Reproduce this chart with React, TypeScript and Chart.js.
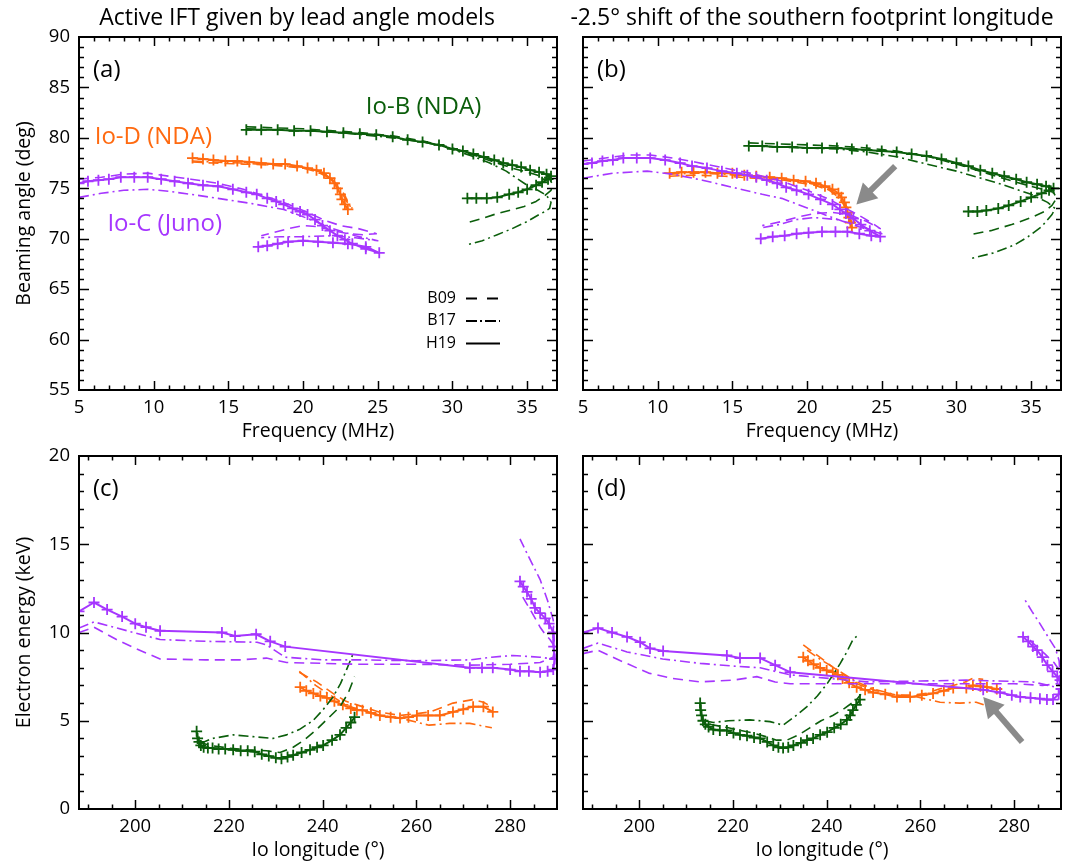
import React, { useEffect, useRef } from 'react';
import { Chart, registerables } from 'chart.js';

Chart.register(...registerables);

type P = [number, number];

const PURPLE = '#A636FF';
const ORANGE = '#FF6A10';
const GREEN = '#0B5E0B';
const ARROW = '#8A8A8A';
const FONT = "'Open Sans', sans-serif";

// ---- tick labels ----
const freqTicks = [5, 10, 15, 20, 25, 30, 35];
const angleTicks = [55, 60, 65, 70, 75, 80, 85, 90];
const lonTicks = [200, 220, 240, 260, 280];
const energyTicks = [0, 5, 10, 15, 20];

// ---- panel (a): beaming angle vs frequency, lead angle models ----
const aIoB_H19: P[] = [[16.2, 80.8], [17.2, 80.8], [18.3, 80.8], [19.4, 80.7], [20.5, 80.7], [21.6, 80.6], [22.7, 80.5], [23.8, 80.4], [24.9, 80.3], [26.0, 80.1], [27.0, 79.8], [28.0, 79.6], [29.1, 79.3], [30.0, 78.9], [30.7, 78.7], [31.4, 78.4], [32.1, 78.1], [32.8, 77.8], [33.4, 77.5], [34.0, 77.3], [34.6, 77.1], [35.2, 76.8], [35.8, 76.6], [36.3, 76.4], [36.6, 76.2], [36.4, 75.9], [36.0, 75.6], [35.6, 75.3], [35.0, 74.9], [34.4, 74.6], [33.8, 74.4], [33.0, 74.1], [32.3, 74.0], [31.6, 74.0], [31.0, 74.0]];
const aIoB_B09: P[] = [[16.2, 81.1], [18.0, 81.0], [20.0, 80.9], [22.0, 80.7], [24.0, 80.5], [26.0, 80.2], [28.0, 79.7], [30.0, 79.0], [32.0, 78.0], [34.0, 77.0], [35.5, 76.4], [36.5, 75.9], [36.7, 75.4], [36.6, 74.8], [36.2, 74.3], [35.6, 73.7], [34.8, 73.2], [33.8, 72.8], [33.0, 72.5], [32.0, 72.0], [31.0, 71.6]];
const aIoB_B17: P[] = [[16.2, 80.9], [18.0, 80.8], [20.0, 80.7], [22.0, 80.6], [24.0, 80.3], [26.0, 80.0], [28.0, 79.6], [29.5, 79.1], [31.3, 78.2], [32.5, 77.5], [33.6, 76.7], [34.9, 75.4], [35.6, 74.9], [36.3, 74.3], [36.6, 73.6], [36.5, 73.0], [36.2, 72.7], [35.8, 72.4], [35.0, 71.7], [34.0, 71.0], [33.0, 70.4], [32.0, 69.8], [31.0, 69.4]];
const aIoD_H19: P[] = [[12.6, 78.0], [13.3, 77.9], [14.0, 77.8], [14.8, 77.7], [15.6, 77.7], [16.4, 77.6], [17.2, 77.5], [18.0, 77.4], [18.8, 77.4], [19.6, 77.2], [20.3, 77.0], [20.9, 76.8], [21.4, 76.5], [21.8, 76.0], [22.1, 75.5], [22.3, 75.0], [22.5, 74.4], [22.6, 73.9], [22.8, 73.4], [23.0, 72.9]];
const aIoD_B09: P[] = [[12.6, 77.6], [14.0, 77.5], [16.0, 77.4], [18.0, 77.3], [20.0, 77.0], [21.0, 76.6], [21.8, 76.0], [22.3, 75.2], [22.7, 74.3], [23.0, 73.5], [23.3, 73.0]];
const aIoD_B17: P[] = [[12.6, 77.7], [14.0, 77.6], [16.0, 77.5], [18.0, 77.3], [20.0, 77.1], [21.0, 76.7], [21.8, 76.1], [22.4, 75.2], [22.8, 74.3], [23.0, 73.6], [23.2, 73.1]];
const aIoC_H19: P[] = [[5.0, 75.5], [5.6, 75.7], [6.3, 75.8], [7.0, 75.9], [7.8, 76.1], [8.7, 76.1], [9.6, 76.1], [10.5, 75.9], [11.4, 75.7], [12.3, 75.5], [13.3, 75.3], [14.3, 75.2], [15.3, 74.9], [16.2, 74.6], [16.9, 74.4], [17.6, 74.0], [18.2, 73.7], [18.7, 73.4], [19.3, 73.0], [19.8, 72.7], [20.3, 72.4], [20.8, 71.9], [21.3, 71.3], [21.8, 70.8], [22.3, 70.3], [22.8, 69.9], [23.3, 69.5], [24.2, 69.0], [25.1, 68.6], [24.2, 69.2], [23.0, 69.5], [22.0, 69.6], [21.0, 69.7], [20.0, 69.8], [19.0, 69.7], [18.3, 69.5], [17.6, 69.3], [17.0, 69.2]];
const aIoC_B09: P[] = [[5.0, 75.9], [6.5, 76.1], [8.0, 76.4], [9.6, 76.5], [11.0, 76.2], [12.5, 75.9], [14.3, 75.5], [16.0, 74.9], [17.5, 74.2], [18.7, 73.6], [20.0, 72.8], [21.5, 71.8], [22.5, 71.3], [23.7, 71.0], [24.9, 70.5], [24.0, 70.4], [23.0, 70.5], [22.0, 70.8], [21.0, 71.2], [20.0, 71.3], [19.0, 71.0], [18.0, 70.6], [17.2, 70.3]];
const aIoC_B17: P[] = [[5.0, 74.1], [6.5, 74.5], [8.0, 74.8], [9.6, 74.9], [11.0, 74.7], [12.5, 74.4], [14.3, 74.0], [16.5, 73.5], [18.7, 72.9], [20.5, 71.9], [22.0, 71.0], [23.5, 70.3], [25.0, 69.8], [23.5, 70.1], [22.0, 70.3], [20.0, 70.2], [18.5, 70.2], [17.2, 70.1]];

// ---- panel (b): -2.5 deg footprint shift ----
const bIoB_H19: P[] = [[16.1, 79.2], [17.0, 79.2], [18.0, 79.1], [19.0, 79.1], [20.0, 79.0], [21.0, 79.0], [22.0, 79.0], [23.0, 78.9], [24.0, 78.8], [25.0, 78.7], [26.0, 78.6], [27.0, 78.4], [28.0, 78.2], [29.0, 77.9], [30.0, 77.5], [30.8, 77.2], [31.6, 76.8], [32.4, 76.5], [33.2, 76.2], [34.0, 75.9], [34.7, 75.6], [35.4, 75.4], [36.0, 75.2], [36.5, 75.0], [36.2, 74.8], [35.7, 74.5], [35.0, 74.1], [34.3, 73.7], [33.5, 73.3], [32.8, 73.0], [32.0, 72.8], [31.4, 72.7], [30.8, 72.7]];
const bIoB_B09: P[] = [[16.1, 79.5], [18.0, 79.4], [20.0, 79.3], [22.0, 79.2], [24.0, 79.0], [26.0, 78.7], [28.0, 78.2], [30.0, 77.4], [32.0, 76.5], [34.0, 75.6], [35.5, 75.0], [36.5, 74.6], [36.7, 74.0], [36.4, 73.3], [35.9, 72.7], [35.0, 72.1], [33.7, 71.4], [32.3, 70.8], [30.9, 70.4]];
const bIoB_B17: P[] = [[16.1, 79.2], [18.0, 79.1], [20.0, 79.0], [22.0, 78.9], [24.0, 78.6], [26.1, 78.1], [28.0, 77.4], [30.0, 76.7], [32.8, 75.5], [35.0, 74.4], [36.1, 73.6], [36.6, 73.0], [36.4, 72.4], [35.7, 71.2], [34.8, 70.2], [33.9, 69.4], [32.5, 68.6], [30.9, 68.0]];
const bIoD_H19: P[] = [[10.8, 76.5], [11.6, 76.6], [12.4, 76.6], [13.2, 76.6], [14.0, 76.5], [15.0, 76.5], [15.8, 76.3], [16.6, 76.2], [17.5, 76.1], [18.3, 76.0], [19.1, 75.8], [19.9, 75.7], [20.6, 75.5], [21.2, 75.2], [21.7, 74.9], [22.1, 74.5], [22.3, 74.1], [22.5, 73.6], [22.6, 73.1], [22.7, 72.6], [22.8, 72.1], [22.9, 71.6], [23.0, 71.1]];
const bIoD_B09: P[] = [[10.8, 76.2], [12.5, 76.3], [14.5, 76.2], [16.5, 76.0], [18.5, 75.8], [20.5, 75.3], [21.5, 74.8], [22.2, 74.0], [22.6, 73.0], [22.9, 72.0], [23.1, 71.2]];
const bIoD_B17: P[] = [[10.8, 76.4], [12.5, 76.5], [14.5, 76.4], [16.5, 76.1], [18.5, 75.9], [20.5, 75.4], [21.5, 74.9], [22.2, 74.2], [22.6, 73.3], [23.0, 72.3], [23.2, 71.5]];
const bIoC_H19: P[] = [[5.0, 77.4], [5.6, 77.5], [6.3, 77.7], [7.0, 77.8], [7.7, 78.0], [8.6, 78.0], [9.5, 78.0], [10.5, 77.8], [11.5, 77.5], [12.3, 77.2], [13.3, 77.0], [14.3, 76.7], [15.3, 76.5], [16.0, 76.3], [16.6, 76.1], [17.3, 75.8], [18.0, 75.5], [18.6, 75.1], [19.3, 74.8], [20.1, 74.4], [20.9, 73.9], [21.7, 73.4], [22.2, 72.9], [22.6, 72.5], [23.1, 72.0], [23.6, 71.4], [24.2, 70.8], [24.9, 70.2], [24.3, 70.3], [23.5, 70.5], [22.7, 70.7], [21.9, 70.7], [21.0, 70.7], [20.1, 70.6], [19.3, 70.5], [18.5, 70.3], [17.7, 70.2], [16.9, 70.0]];
const bIoC_B09: P[] = [[5.0, 77.7], [6.5, 78.0], [8.0, 78.3], [9.5, 78.3], [11.0, 78.0], [12.5, 77.6], [14.5, 77.0], [16.5, 76.4], [18.3, 75.7], [20.0, 74.8], [21.5, 73.9], [22.6, 73.0], [23.5, 72.3], [24.3, 71.6], [24.9, 71.0], [24.0, 71.7], [22.8, 72.4], [21.7, 72.6], [20.5, 72.5], [19.5, 72.2], [18.3, 71.7], [17.0, 71.3]];
const bIoC_B17: P[] = [[5.0, 76.0], [7.0, 76.5], [9.3, 76.7], [11.0, 76.4], [13.0, 75.8], [15.0, 75.1], [17.0, 74.4], [18.3, 74.0], [20.1, 73.0], [21.5, 72.2], [23.0, 71.4], [24.5, 70.7], [25.0, 70.5], [23.5, 71.3], [22.0, 71.9], [20.5, 72.1], [19.3, 71.9], [18.1, 71.4], [17.0, 71.1]];

// ---- panel (c): electron energy vs Io longitude ----
const cIoC_H19: P[] = [[188.0, 11.2], [191.2, 11.7], [194.0, 11.3], [197.2, 10.9], [200.0, 10.5], [202.3, 10.3], [205.3, 10.1], [218.5, 10.0], [221.3, 9.8], [225.8, 9.9], [228.8, 9.5], [232.0, 9.2], [271.4, 8.0], [274.0, 8.0], [276.3, 8.0], [280.0, 7.9], [282.1, 7.8], [284.0, 7.8], [286.4, 7.75], [288.0, 7.8], [289.2, 7.9], [289.5, 8.5], [289.3, 9.2], [289.2, 10.0], [288.3, 10.5], [287.5, 10.8], [286.4, 11.1], [285.3, 11.4], [284.5, 11.9], [283.6, 12.3], [282.8, 12.6], [282.1, 12.9]];
const cIoC_B09: P[] = [[188.0, 10.0], [191.2, 10.3], [196.0, 9.6], [200.0, 9.1], [205.3, 8.5], [215.0, 8.45], [222.4, 8.45], [228.0, 8.55], [232.3, 8.3], [248.0, 8.2], [260.0, 8.2], [271.4, 8.15], [280.0, 8.2], [286.4, 8.3], [289.2, 8.6], [289.5, 9.2], [288.5, 9.6], [287.2, 10.0], [286.4, 10.3], [284.5, 11.2], [282.7, 12.0]];
const cIoC_B17: P[] = [[188.0, 10.25], [191.2, 10.6], [195.5, 10.3], [199.6, 10.0], [205.3, 9.6], [215.0, 9.5], [226.0, 9.45], [228.0, 9.3], [232.0, 8.6], [240.0, 8.45], [248.0, 8.45], [260.0, 8.4], [271.4, 8.45], [276.0, 8.6], [280.6, 8.7], [286.4, 8.6], [289.2, 8.5], [289.5, 9.0], [289.2, 10.7], [288.0, 11.8], [286.4, 13.0], [284.5, 14.0], [282.1, 15.3]];
const cIoB_H19: P[] = [[213.1, 4.4], [213.3, 4.0], [213.6, 3.8], [214.0, 3.6], [214.6, 3.5], [215.5, 3.45], [216.5, 3.45], [217.8, 3.4], [219.2, 3.4], [220.9, 3.35], [222.5, 3.3], [224.0, 3.3], [225.5, 3.25], [227.0, 3.1], [228.5, 3.0], [230.0, 2.9], [231.2, 2.85], [232.5, 2.95], [233.7, 3.05], [235.5, 3.2], [237.3, 3.35], [238.8, 3.5], [240.1, 3.6], [242.0, 3.9], [243.7, 4.2], [245.0, 4.6], [246.0, 4.9], [246.8, 5.2]];
const cIoB_B09: P[] = [[213.5, 3.8], [216.0, 3.6], [220.0, 3.45], [224.0, 3.35], [228.0, 3.3], [230.9, 3.2], [233.7, 3.5], [236.0, 3.9], [238.7, 4.5], [241.0, 5.1], [243.7, 5.8], [245.5, 6.6], [246.8, 7.5]];
const cIoB_B17: P[] = [[213.8, 3.7], [216.5, 4.0], [220.9, 4.2], [225.1, 4.1], [229.4, 4.0], [232.3, 4.2], [235.0, 4.5], [237.9, 5.0], [240.0, 5.6], [242.2, 6.35], [243.8, 7.1], [245.1, 7.9], [246.5, 8.8]];
const cIoD_H19: P[] = [[235.2, 6.9], [236.5, 6.7], [238.0, 6.55], [239.5, 6.4], [240.9, 6.3], [242.5, 6.1], [244.3, 5.9], [246.0, 5.7], [247.3, 5.6], [248.5, 5.6], [250.3, 5.45], [252.2, 5.3], [254.5, 5.2], [256.5, 5.15], [258.3, 5.2], [260.1, 5.3], [262.5, 5.3], [265.0, 5.3], [267.8, 5.5], [270.0, 5.65], [272.1, 5.8], [274.3, 5.8], [276.3, 5.5]];
const cIoD_B09: P[] = [[235.0, 7.75], [238.7, 7.2], [242.2, 6.55], [245.0, 6.1], [247.3, 5.9], [252.0, 5.5], [256.5, 5.3], [260.0, 5.4], [263.0, 5.5], [267.8, 6.0], [272.1, 6.2], [274.3, 6.05], [276.0, 5.8]];
const cIoD_B17: P[] = [[235.0, 7.8], [238.5, 7.0], [242.2, 6.35], [245.0, 5.9], [248.0, 5.6], [252.0, 5.3], [256.5, 5.15], [262.7, 4.75], [267.1, 4.85], [271.4, 4.85], [276.1, 4.6]];

// ---- panel (d): -2.5 deg footprint shift ----
const dIoC_H19: P[] = [[188.0, 10.0], [191.2, 10.25], [194.2, 10.0], [197.4, 9.75], [200.2, 9.45], [202.3, 9.1], [205.1, 8.95], [218.7, 8.7], [221.5, 8.55], [225.8, 8.55], [229.0, 8.15], [232.2, 7.75], [273.4, 6.75], [277.0, 6.6], [279.5, 6.45], [281.3, 6.35], [283.5, 6.3], [285.5, 6.25], [287.0, 6.2], [288.3, 6.2], [289.5, 6.5], [290.0, 6.8], [289.8, 7.3], [289.2, 7.5], [288.2, 7.8], [287.1, 8.15], [286.0, 8.6], [284.9, 9.0], [284.0, 9.2], [283.0, 9.5], [281.9, 9.75]];
const dIoC_B09: P[] = [[188.0, 8.8], [191.2, 9.0], [196.0, 8.4], [202.0, 7.7], [207.0, 7.4], [213.0, 7.2], [220.0, 7.3], [225.1, 7.5], [229.0, 7.2], [232.2, 7.1], [250.0, 7.1], [270.0, 7.1], [280.0, 7.1], [286.0, 7.0], [289.2, 7.1], [289.8, 7.8], [288.5, 8.3], [286.5, 8.8], [284.0, 9.4], [282.5, 9.8]];
const dIoC_B17: P[] = [[188.0, 9.1], [191.2, 9.4], [197.4, 8.9], [205.0, 8.5], [213.0, 8.25], [220.0, 8.1], [225.8, 8.0], [232.2, 7.6], [248.6, 7.2], [260.0, 7.25], [269.8, 7.3], [284.0, 7.2], [289.0, 6.9], [289.9, 7.2], [289.6, 8.4], [288.8, 9.1], [287.6, 9.6], [285.5, 10.5], [283.8, 11.2], [282.3, 11.85]];
const dIoB_H19: P[] = [[213.0, 6.0], [213.1, 5.6], [213.3, 5.3], [213.6, 5.0], [214.1, 4.8], [214.8, 4.65], [215.8, 4.5], [217.2, 4.45], [218.7, 4.45], [220.1, 4.3], [221.5, 4.2], [223.0, 4.15], [224.5, 4.05], [225.8, 4.0], [227.3, 3.8], [228.6, 3.6], [229.7, 3.5], [230.7, 3.45], [231.8, 3.5], [232.9, 3.6], [234.5, 3.75], [235.8, 3.9], [237.1, 4.0], [238.6, 4.2], [240.1, 4.35], [241.6, 4.6], [243.0, 4.8], [244.3, 5.05], [245.0, 5.3], [245.6, 5.6], [246.3, 5.9], [247.1, 6.2]];
const dIoB_B09: P[] = [[215.0, 4.8], [219.0, 4.6], [224.3, 4.3], [227.0, 4.1], [229.3, 3.9], [231.5, 3.9], [234.0, 4.2], [236.4, 4.6], [238.8, 5.0], [241.3, 5.3], [243.8, 5.7], [246.4, 6.2], [247.3, 6.5]];
const dIoB_B17: P[] = [[214.0, 5.0], [215.8, 4.9], [219.0, 5.0], [223.6, 5.05], [227.9, 4.95], [230.7, 4.75], [233.0, 5.2], [235.8, 5.8], [238.0, 6.4], [240.1, 7.1], [241.6, 7.7], [242.9, 8.25], [244.3, 8.9], [245.6, 9.6], [246.7, 9.85]];
const dIoD_H19: P[] = [[235.0, 8.6], [236.0, 8.4], [237.2, 8.2], [238.6, 8.0], [240.0, 7.85], [241.3, 7.75], [242.4, 7.6], [243.4, 7.4], [244.8, 7.15], [246.4, 6.9], [248.2, 6.75], [249.9, 6.6], [252.5, 6.5], [255.0, 6.35], [257.8, 6.35], [260.3, 6.45], [262.7, 6.55], [265.0, 6.7], [267.0, 6.85], [269.8, 6.85], [271.2, 7.0], [272.8, 6.95], [274.2, 6.9], [276.3, 6.8]];
const dIoD_B09: P[] = [[235.0, 9.3], [237.0, 8.9], [239.3, 8.45], [241.0, 8.1], [242.9, 7.75], [246.4, 7.1], [250.0, 6.75], [255.0, 6.45], [258.0, 6.45], [261.3, 6.55], [264.0, 6.8], [267.0, 7.0], [269.5, 7.2], [271.2, 7.4], [273.4, 7.35]];
const dIoD_B17: P[] = [[235.8, 9.0], [238.5, 8.5], [241.3, 8.05], [244.0, 7.6], [246.4, 7.2], [250.0, 6.8], [255.0, 6.45], [259.3, 6.35], [264.2, 6.05], [268.4, 6.0], [271.9, 6.05], [273.5, 5.9]];

// ---- annotations ----
const bArrow: P[] = [[25.9, 77.2], [23.3, 73.4]];
const dArrow: P[] = [[281.7, 3.8], [273.4, 6.35]];
const legendNames = ['B09', 'B17', 'H19'];

type Style = 'solid' | 'dash' | 'dashdot';
interface Series { data: P[]; color: string; style: Style }
interface Label { text: string; at: P; color: string }
interface Spec {
  id: string;
  area: { left: number; top: number; right: number; bottom: number };
  x: { min: number; max: number; ticks: number[]; minor: number; major: number; title: string };
  y: { min: number; max: number; ticks: number[]; minor: number; major: number; title: string | null };
  panel: string;
  title?: { text: string; dx: number };
  series: Series[];
  labels: Label[];
  legend?: boolean;
  arrow?: P[];
}

const ser = (data: P[], color: string, style: Style): Series => ({ data, color, style });

const W = 1070;
const H = 865;
const XH = 53;

const specs: Spec[] = [
  {
    id: 'a',
    area: { left: 79, top: 37, right: 557, bottom: 390 },
    x: { min: 5, max: 37, ticks: freqTicks, minor: 1, major: 5, title: 'Frequency (MHz)' },
    y: { min: 55, max: 90, ticks: angleTicks, minor: 1, major: 5, title: 'Beaming angle (deg)' },
    panel: '(a)',
    title: { text: 'Active IFT given by lead angle models', dx: 218 },
    series: [
      ser(aIoC_B09, PURPLE, 'dash'), ser(aIoC_B17, PURPLE, 'dashdot'), ser(aIoC_H19, PURPLE, 'solid'),
      ser(aIoB_B09, GREEN, 'dash'), ser(aIoB_B17, GREEN, 'dashdot'), ser(aIoB_H19, GREEN, 'solid'),
      ser(aIoD_B09, ORANGE, 'dash'), ser(aIoD_B17, ORANGE, 'dashdot'), ser(aIoD_H19, ORANGE, 'solid'),
    ],
    labels: [
      { text: 'Io-D (NDA)', at: [6.05, 80.1], color: ORANGE },
      { text: 'Io-B (NDA)', at: [24.2, 83.0], color: GREEN },
      { text: 'Io-C (Juno)', at: [6.9, 71.4], color: PURPLE },
    ],
    legend: true,
  },
  {
    id: 'b',
    area: { left: 583, top: 37, right: 1061, bottom: 390 },
    x: { min: 5, max: 37, ticks: freqTicks, minor: 1, major: 5, title: 'Frequency (MHz)' },
    y: { min: 55, max: 90, ticks: angleTicks, minor: 1, major: 5, title: null },
    panel: '(b)',
    title: { text: '-2.5\u00b0 shift of the southern footprint longitude', dx: 229 },
    series: [
      ser(bIoC_B09, PURPLE, 'dash'), ser(bIoC_B17, PURPLE, 'dashdot'), ser(bIoC_H19, PURPLE, 'solid'),
      ser(bIoB_B09, GREEN, 'dash'), ser(bIoB_B17, GREEN, 'dashdot'), ser(bIoB_H19, GREEN, 'solid'),
      ser(bIoD_B09, ORANGE, 'dash'), ser(bIoD_B17, ORANGE, 'dashdot'), ser(bIoD_H19, ORANGE, 'solid'),
    ],
    labels: [],
    arrow: bArrow,
  },
  {
    id: 'c',
    area: { left: 79, top: 456, right: 557, bottom: 809 },
    x: { min: 188, max: 290, ticks: lonTicks, minor: 5, major: 20, title: 'Io longitude (\u00b0)' },
    y: { min: 0, max: 20, ticks: energyTicks, minor: 1, major: 5, title: 'Electron energy (keV)' },
    panel: '(c)',
    series: [
      ser(cIoC_B09, PURPLE, 'dash'), ser(cIoC_B17, PURPLE, 'dashdot'), ser(cIoC_H19, PURPLE, 'solid'),
      ser(cIoB_B09, GREEN, 'dash'), ser(cIoB_B17, GREEN, 'dashdot'), ser(cIoB_H19, GREEN, 'solid'),
      ser(cIoD_B09, ORANGE, 'dash'), ser(cIoD_B17, ORANGE, 'dashdot'), ser(cIoD_H19, ORANGE, 'solid'),
    ],
    labels: [],
  },
  {
    id: 'd',
    area: { left: 583, top: 456, right: 1061, bottom: 809 },
    x: { min: 188, max: 290, ticks: lonTicks, minor: 5, major: 20, title: 'Io longitude (\u00b0)' },
    y: { min: 0, max: 20, ticks: energyTicks, minor: 1, major: 5, title: null },
    panel: '(d)',
    series: [
      ser(dIoC_B09, PURPLE, 'dash'), ser(dIoC_B17, PURPLE, 'dashdot'), ser(dIoC_H19, PURPLE, 'solid'),
      ser(dIoB_B09, GREEN, 'dash'), ser(dIoB_B17, GREEN, 'dashdot'), ser(dIoB_H19, GREEN, 'solid'),
      ser(dIoD_B09, ORANGE, 'dash'), ser(dIoD_B17, ORANGE, 'dashdot'), ser(dIoD_H19, ORANGE, 'solid'),
    ],
    labels: [],
    arrow: dArrow,
  },
];

const DASH = [10, 6];
const DASHDOT = [10, 4, 2, 4];

function decorPlugin(spec: Spec) {
  return {
    id: 'decor_' + spec.id,
    afterDraw(chart: any) {
      const ctx: CanvasRenderingContext2D = chart.ctx;
      const { left, top, right, bottom } = chart.chartArea;
      const xs = chart.scales.x;
      const ys = chart.scales.y;
      ctx.save();
      ctx.strokeStyle = '#000';
      ctx.lineWidth = 1.5;
      ctx.setLineDash([]);
      const seg = (x1: number, y1: number, x2: number, y2: number) => {
        ctx.beginPath();
        ctx.moveTo(x1, y1);
        ctx.lineTo(x2, y2);
        ctx.stroke();
      };
      // x ticks (inward, bottom and top)
      for (let i = Math.ceil(spec.x.min / spec.x.minor); i * spec.x.minor <= spec.x.max; i++) {
        const v = i * spec.x.minor;
        const px = Math.round(xs.getPixelForValue(v)) + 0.5;
        if (px <= left + 1 || px >= right - 1) continue;
        const len = v % spec.x.major === 0 ? 9 : 4.5;
        seg(px, bottom, px, bottom - len);
        seg(px, top, px, top + len);
      }
      for (let i = Math.ceil(spec.y.min / spec.y.minor); i * spec.y.minor <= spec.y.max; i++) {
        const v = i * spec.y.minor;
        const py = Math.round(ys.getPixelForValue(v)) + 0.5;
        if (py <= top + 1 || py >= bottom - 1) continue;
        const len = v % spec.y.major === 0 ? 10 : 5;
        seg(left, py, left + len, py);
        seg(right, py, right - len, py);
      }
      ctx.lineWidth = 2;
      ctx.strokeRect(left, top, right - left, bottom - top);

      // panel letter
      ctx.fillStyle = '#000';
      ctx.font = `24px ${FONT}`;
      ctx.textAlign = 'left';
      ctx.textBaseline = 'middle';
      ctx.fillText(spec.panel, left + 14, top + 33);

      // panel title
      if (spec.title) {
        ctx.font = `23px ${FONT}`;
        ctx.textAlign = 'center';
        ctx.fillText(spec.title.text, left + spec.title.dx, 18);
      }

      // series labels
      ctx.font = `24px ${FONT}`;
      ctx.textAlign = 'left';
      for (const lb of spec.labels) {
        ctx.fillStyle = lb.color;
        ctx.fillText(lb.text, xs.getPixelForValue(lb.at[0]), ys.getPixelForValue(lb.at[1]));
      }

      // line-style legend
      if (spec.legend) {
        const dashes = [[11, 10], [11, 3, 2, 3], []];
        ctx.font = `16px ${FONT}`;
        ctx.fillStyle = '#000';
        ctx.textAlign = 'right';
        legendNames.forEach((name, i) => {
          const y = top + 261 + i * 22.5;
          ctx.fillText(name, left + 377, y);
          ctx.setLineDash(dashes[i]);
          ctx.lineWidth = 2;
          seg(left + 387, y + 0.5, left + 421, y + 0.5);
        });
        ctx.setLineDash([]);
      }

      // arrow
      if (spec.arrow) {
        const [a, b] = spec.arrow;
        const x1 = xs.getPixelForValue(a[0]);
        const y1 = ys.getPixelForValue(a[1]);
        const x2 = xs.getPixelForValue(b[0]);
        const y2 = ys.getPixelForValue(b[1]);
        const ang = Math.atan2(y2 - y1, x2 - x1);
        const headL = 20;
        const headW = 11;
        const bx = x2 - headL * Math.cos(ang);
        const by = y2 - headL * Math.sin(ang);
        ctx.strokeStyle = ARROW;
        ctx.fillStyle = ARROW;
        ctx.lineWidth = 6;
        seg(x1, y1, bx + Math.cos(ang) * 2, by + Math.sin(ang) * 2);
        ctx.beginPath();
        ctx.moveTo(x2, y2);
        ctx.lineTo(bx + headW * Math.sin(ang), by - headW * Math.cos(ang));
        ctx.lineTo(bx - headW * Math.sin(ang), by + headW * Math.cos(ang));
        ctx.closePath();
        ctx.fill();
      }
      ctx.restore();
    },
  };
}

function makeConfig(spec: Spec): any {
  const datasets = spec.series.map((s) => ({
    data: s.data.map(([x, y]) => ({ x, y })),
    borderColor: s.color,
    backgroundColor: s.color,
    borderWidth: s.style === 'solid' ? 2 : 1.6,
    borderDash: s.style === 'dash' ? DASH : s.style === 'dashdot' ? DASHDOT : [],
    borderJoinStyle: 'round',
    pointStyle: 'cross',
    pointRadius: s.style === 'solid' ? 5.5 : 0,
    pointBorderWidth: 1.8,
    pointBorderColor: s.color,
    pointHoverRadius: 0,
    showLine: true,
    tension: 0,
    fill: false,
  }));
  const tickFont = { family: FONT, size: 18.5 };
  const titleFont = { family: FONT, size: 19.5 };
  return {
    type: 'scatter',
    data: { datasets },
    options: {
      responsive: false,
      animation: false,
      devicePixelRatio: 1,
      events: [],
      layout: {
        padding: { left: 0, top: spec.area.top, right: W - spec.area.right, bottom: H - spec.area.bottom - XH },
      },
      plugins: { legend: { display: false }, tooltip: { enabled: false }, title: { display: false } },
      scales: {
        x: {
          type: 'linear',
          position: 'bottom',
          min: spec.x.min,
          max: spec.x.max,
          afterBuildTicks: (s: any) => { s.ticks = spec.x.ticks.map((v) => ({ value: v })); },
          afterFit: (s: any) => { s.height = XH; },
          grid: { display: false, drawTicks: false },
          border: { display: false },
          ticks: { font: tickFont, color: '#000', padding: 7, maxRotation: 0, autoSkip: false },
          title: { display: true, text: spec.x.title, font: titleFont, color: '#000', padding: 0 },
        },
        y: {
          type: 'linear',
          position: 'left',
          min: spec.y.min,
          max: spec.y.max,
          afterBuildTicks: (s: any) => { s.ticks = spec.y.ticks.map((v) => ({ value: v })); },
          afterFit: (s: any) => { s.width = spec.area.left; },
          grid: { display: false, drawTicks: false },
          border: { display: false },
          ticks: { display: spec.y.title !== null, font: tickFont, color: '#000', padding: 9, autoSkip: false },
          title: {
            display: spec.y.title !== null,
            text: spec.y.title || '',
            font: titleFont,
            color: '#000',
            padding: { top: 13, bottom: 0 },
          },
        },
      },
    },
    plugins: [decorPlugin(spec)],
  };
}

function Panel({ spec }: { spec: Spec }) {
  const ref = useRef<HTMLCanvasElement>(null);
  useEffect(() => {
    if (!ref.current) return;
    const chart = new Chart(ref.current, makeConfig(spec));
    return () => chart.destroy();
  }, [spec]);
  return (
    <canvas
      ref={ref}
      width={W}
      height={H}
      style={{ position: 'absolute', left: 0, top: 0, width: W, height: H }}
    />
  );
}

export default function App() {
  return (
    <div style={{ position: 'absolute', left: 0, top: 0, width: W, height: H, background: '#fff', overflow: 'hidden' }}>
      {specs.map((s) => (
        <Panel key={s.id} spec={s} />
      ))}
    </div>
  );
}
